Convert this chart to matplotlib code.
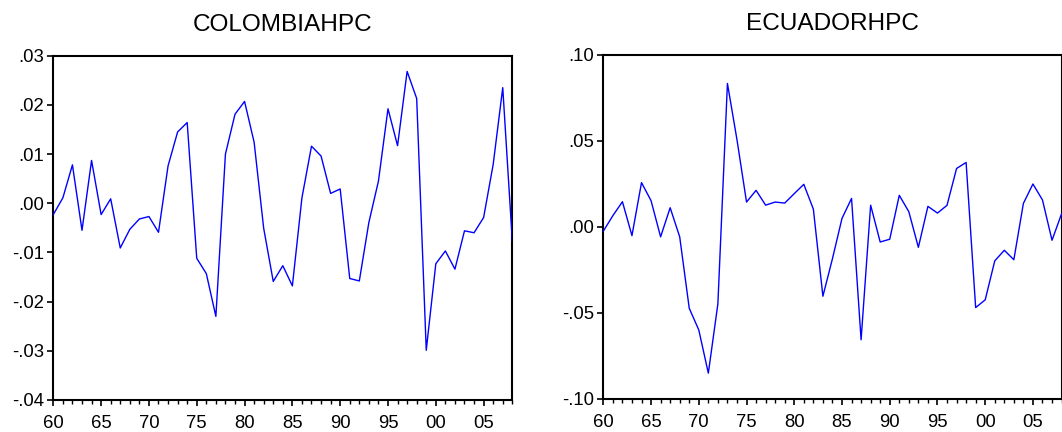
import matplotlib
matplotlib.use("Agg")
import matplotlib.pyplot as plt
from matplotlib.ticker import FuncFormatter, MultipleLocator

plt.rcParams['font.family'] = ['Liberation Sans', 'DejaVu Sans']

years = list(range(1960, 2009))

colombia_hpc = [
    -0.0023, 0.0011, 0.0078, -0.0055, 0.0087, -0.0023, 0.0009, -0.0091, -0.0053, -0.0032,
    -0.0027, -0.0059, 0.0076, 0.0145, 0.0164, -0.0112, -0.0143, -0.0230, 0.0100, 0.0181,
    0.0207, 0.0124, -0.0051, -0.0159, -0.0127, -0.0168, 0.0011, 0.0116, 0.0096, 0.0020,
    0.0029, -0.0153, -0.0158, -0.0039, 0.0045, 0.0192, 0.0117, 0.0268, 0.0213, -0.0299,
    -0.0123, -0.0097, -0.0134, -0.0056, -0.0060, -0.0029, 0.0079, 0.0235, -0.0077,
]

ecuador_hpc = [
    -0.0025, 0.0065, 0.0146, -0.0051, 0.0257, 0.0152, -0.0058, 0.0111, -0.0058, -0.0473,
    -0.0599, -0.0850, -0.0447, 0.0833, 0.0506, 0.0144, 0.0212, 0.0126, 0.0144, 0.0138,
    0.0193, 0.0247, 0.0103, -0.0403, -0.0185, 0.0049, 0.0165, -0.0656, 0.0126, -0.0088,
    -0.0072, 0.0183, 0.0088, -0.0119, 0.0119, 0.0080, 0.0125, 0.0339, 0.0374, -0.0469,
    -0.0424, -0.0198, -0.0136, -0.0191, 0.0136, 0.0249, 0.0156, -0.0078, 0.0076,
]


def dec_fmt(v, pos):
    s = f"{v:.2f}"
    return s.replace("0.", ".", 1)


def year_fmt(v, pos):
    return f"{int(round(v)) % 100:02d}"


fig = plt.figure(figsize=(10.62, 4.32), dpi=100)

panels = [
    ("COLOMBIAHPC", colombia_hpc, [0.0502, 0.0741, 0.4322, 0.7970], (-0.04, 0.03), 0.01),
    ("ECUADORHPC", ecuador_hpc, [0.5681, 0.0764, 0.4315, 0.7970], (-0.10, 0.10), 0.05),
]

for title, vals, rect, ylim, step in panels:
    ax = fig.add_axes(rect)
    # linia nad ramka, zeby koncowka przy prawej krawedzi byla widoczna
    ax.plot(years, vals, color='#0000ff', lw=1.0, zorder=3)
    ax.set_xlim(1960, 2008)
    ax.set_ylim(*ylim)
    ax.yaxis.set_major_locator(MultipleLocator(step))
    ax.yaxis.set_major_formatter(FuncFormatter(dec_fmt))
    ax.xaxis.set_major_locator(MultipleLocator(5))
    ax.xaxis.set_minor_locator(MultipleLocator(1))
    ax.xaxis.set_major_formatter(FuncFormatter(year_fmt))
    ax.tick_params(axis='both', which='major', direction='out', length=4, width=1.2,
                   labelsize=13.3, colors='black')
    ax.tick_params(axis='y', which='major', pad=2.5)
    ax.tick_params(axis='x', which='major', pad=6.5)
    ax.tick_params(axis='x', which='minor', direction='out', length=3.2, width=1.0)
    for sp in ax.spines.values():
        sp.set_linewidth(1.5)
        sp.set_color('black')
    ax.set_title(title, fontsize=17.6, pad=18)

fig.savefig("out.png", dpi=100)
